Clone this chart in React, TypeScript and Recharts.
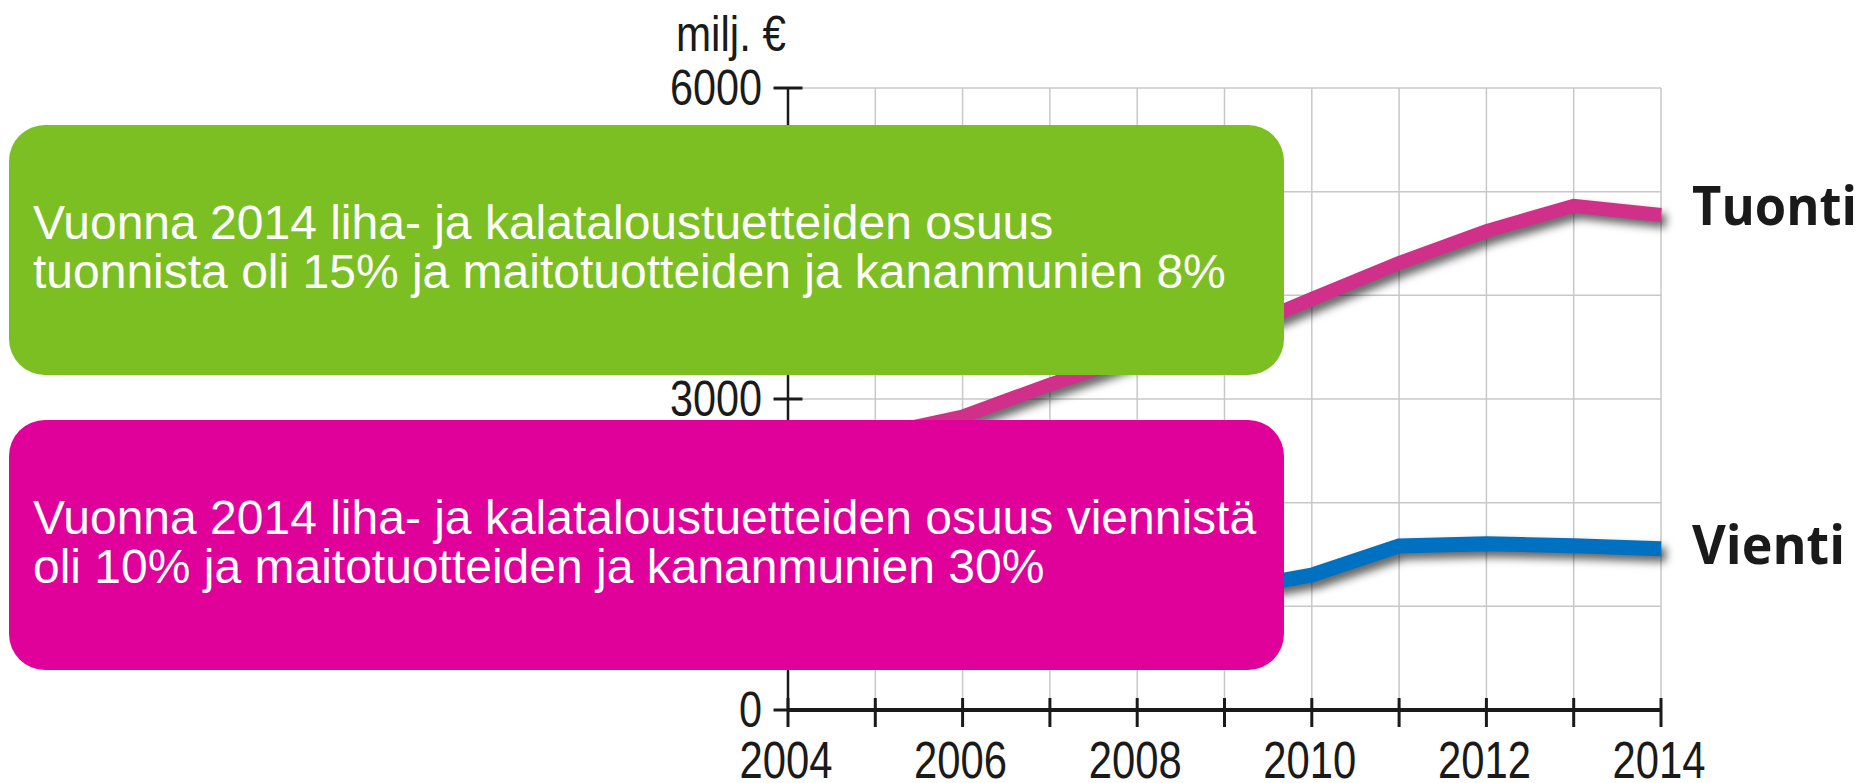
import React from 'react'
import { LineChart, Line, XAxis, YAxis, CartesianGrid } from 'recharts'

const years = [2004, 2005, 2006, 2007, 2008, 2009, 2010, 2011, 2012, 2013, 2014]
const tuonti = [2500, 2650, 2830, 3140, 3420, 3610, 3965, 4312, 4620, 4864, 4775]
const vienti = [1000, 1050, 1100, 1180, 1250, 1150, 1302, 1582, 1604, 1585, 1556]

const yTicks = [0, 1000, 2000, 3000, 4000, 5000, 6000]
const yLabeled = [0, 3000, 6000]
const xLabeled = [2004, 2006, 2008, 2010, 2012, 2014]

const unitLabel = 'milj. €'
const tuontiNote = [
  'Vuonna 2014 liha- ja kalataloustuetteiden osuus',
  'tuonnista oli 15% ja maitotuotteiden ja kananmunien 8%',
]
const vientiNote = [
  'Vuonna 2014 liha- ja kalataloustuetteiden osuus viennistä',
  'oli 10% ja maitotuotteiden ja kananmunien 30%',
]

const data = years.map((year, i) => ({ year, tuonti: tuonti[i], vienti: vienti[i] }))

const W = 1864
const H = 783
const narrow = '"Liberation Sans", Arial, sans-serif'
const ink = '#1a1a1a'

function XTick({ x, y, payload }: any) {
  const v = payload.value
  const s = String(v)
  return (
    <g>
      <line x1={x} x2={x} y1={y - 12} y2={y + 17} stroke={ink} strokeWidth={3} />
      {xLabeled.includes(v) && (
        <text
          x={x - 2}
          y={y + 68}
          textAnchor="middle"
          fontFamily={narrow}
          fontSize={52}
          fill={ink}
          textLength={93}
          lengthAdjust="spacingAndGlyphs"
        >
          {s}
        </text>
      )}
    </g>
  )
}

function YTick({ x, y, payload }: any) {
  const v = payload.value
  const s = String(v)
  return (
    <g>
      <line x1={x - 14.5} x2={x + 14.5} y1={y} y2={y} stroke={ink} strokeWidth={3} />
      {yLabeled.includes(v) && (
        <text
          x={x - 26}
          y={y + 17}
          textAnchor="end"
          fontFamily={narrow}
          fontSize={50}
          fill={ink}
          textLength={s.length * 23}
          lengthAdjust="spacingAndGlyphs"
        >
          {s}
        </text>
      )}
    </g>
  )
}

const endLabel = (name: string, dy: number, len: number) => (props: any) => {
  if (props.index !== years.length - 1) return <g />
  return (
    <text
      x={props.x + 31}
      y={props.y + dy}
      fontFamily='"Open Sans", sans-serif'
      fontWeight={700}
      fontSize={54}
      fill={ink}
      textLength={len}
      lengthAdjust="spacingAndGlyphs"
    >
      {name}
    </text>
  )
}

function NoteBox({ y, color, lines }: { y: number; color: string; lines: string[] }) {
  return (
    <g>
      <rect x={9} y={y} width={1275} height={250} rx={36} ry={36} fill={color} />
      {lines.map((t, i) => (
        <text
          key={i}
          x={33}
          y={y + 114 + i * 49}
          fontFamily='"Liberation Sans", Arial, sans-serif'
          fontSize={48}
          fill="#ffffff"
        >
          {t}
        </text>
      ))}
    </g>
  )
}

export default function App() {
  return (
    <div style={{ position: 'absolute', left: 0, top: 0, width: W, height: H, background: '#fff' }}>
      <style>{`.shadowLine path { filter: drop-shadow(5px 6px 4px rgba(0,0,0,0.6)); }`}</style>
      <LineChart
        width={W}
        height={H}
        data={data}
        margin={{ top: 88, right: 203, left: 688, bottom: 0 }}
      >
        <CartesianGrid stroke="#c8c8c8" strokeWidth={1.5} />
        <XAxis
          dataKey="year"
          type="number"
          domain={[2004, 2014]}
          ticks={years}
          interval={0}
          height={73}
          tickSize={0}
          tickMargin={0}
          tickLine={false}
          axisLine={{ stroke: ink, strokeWidth: 4 }}
          tick={<XTick />}
        />
        <YAxis
          domain={[0, 6000]}
          ticks={yTicks}
          interval={0}
          width={100}
          tickSize={0}
          tickMargin={0}
          tickLine={false}
          axisLine={{ stroke: ink, strokeWidth: 2.5 }}
          tick={<YTick />}
        />
        <Line
          className="shadowLine"
          dataKey="tuonti"
          stroke="#d02f8a"
          strokeWidth={14}
          dot={false}
          activeDot={false}
          isAnimationActive={false}
          label={endLabel('Tuonti', 10, 165)}
        />
        <Line
          className="shadowLine"
          dataKey="vienti"
          stroke="#0070c0"
          strokeWidth={15}
          dot={false}
          activeDot={false}
          isAnimationActive={false}
          label={endLabel('Vienti', 15, 153)}
        />
      </LineChart>
      <svg
        width={W}
        height={H}
        style={{ position: 'absolute', left: 0, top: 0, pointerEvents: 'none' }}
      >
        <text
          x={676}
          y={51}
          fontFamily={narrow}
          fontSize={50}
          fill={ink}
          textLength={110}
          lengthAdjust="spacingAndGlyphs"
        >
          {unitLabel}
        </text>
        <NoteBox y={125} color="#7bbf23" lines={tuontiNote} />
        <NoteBox y={420} color="#e0009a" lines={vientiNote} />
      </svg>
    </div>
  )
}
